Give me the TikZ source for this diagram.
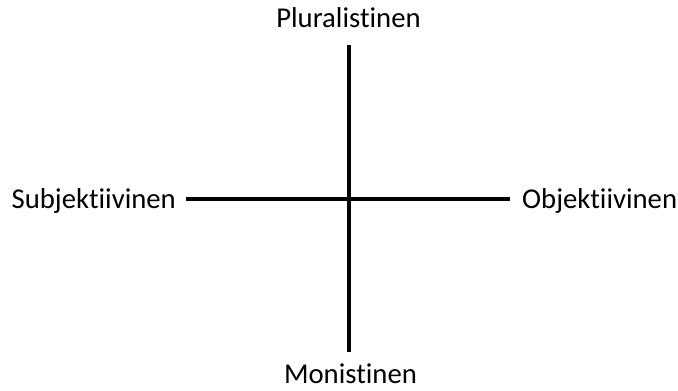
\documentclass[tikz,border=0pt]{standalone}
\usepackage{fontspec}
\setmainfont{Carlito}[Ligatures=NoCommon]
\begin{document}
\begin{tikzpicture}[x=1pt,y=-1pt,
  lbl/.style={inner sep=0pt,font=\fontsize{28.7}{32}\selectfont},
  axis/.style={line width=4pt}]
\useasboundingbox (0,0) rectangle (678,391);
\coordinate (top) at (348.5,45);
\coordinate (bot) at (348.5,352);
\coordinate (lft) at (186,198.5);
\coordinate (rgt) at (510,198.5);
\draw[axis] (top) -- (bot);
\draw[axis] (lft) -- (rgt);
\node[lbl,anchor=base] (plur) at (348.5,27) {Pluralistinen};
\node[lbl,anchor=base,text depth=0pt] (mon) at (350.5,383.5) {Monistinen};
\node[lbl,anchor=base east] (subj) at (176,208) {Subjektiivinen};
\node[lbl,anchor=base west] (obj) at (522,208) {Objektiivinen};
\end{tikzpicture}
\end{document}
